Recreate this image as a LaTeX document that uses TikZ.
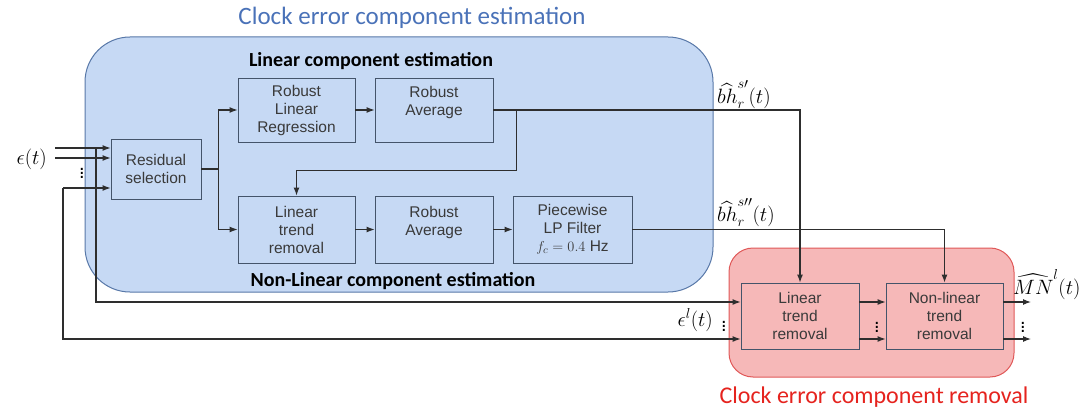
\documentclass[tikz,border=0pt]{standalone}
\usepackage{amsmath}
\usepackage{fontspec}
\setmainfont{Liberation Sans}
\newfontfamily\calibri{Carlito}
\usepackage{tikz}
\usetikzlibrary{arrows.meta,positioning}
\definecolor{estfill}{HTML}{C6D9F4}
\definecolor{estline}{HTML}{5878A8}
\definecolor{esttext}{HTML}{4A72B8}
\definecolor{remfill}{HTML}{F6B8B8}
\definecolor{remline}{HTML}{E05858}
\definecolor{remtext}{HTML}{E5231E}
\definecolor{boxline}{HTML}{44546A}
\definecolor{boxtext}{HTML}{3A3A3A}
\definecolor{wire}{HTML}{2E2E2E}
\newcommand{\bigmath}{\fontsize{22}{25}\selectfont}

\begin{document}
\begin{tikzpicture}[x=1pt,y=-1pt,
  font=\fontsize{15.5}{18}\selectfont,
  blk/.style={draw=boxline,line width=0.9pt,text=boxtext,align=center,inner sep=1pt,
    minimum width=117pt,minimum height=65pt},
  estblk/.style={blk,fill=estfill},
  remblk/.style={blk,fill=remfill},
  grouptitle/.style={font=\calibri\bfseries\fontsize{20}{23}\selectfont},
  bigtitle/.style={font=\calibri\fontsize{25}{28}\selectfont},
  mlabel/.style={font=\bigmath,inner sep=1pt},
  dots/.style={font=\fontsize{20}{22}\selectfont,inner sep=0pt},
  arr/.style={-{Latex[length=8pt,width=6pt]},line width=1.1pt,wire},
  wireline/.style={line width=1.1pt,wire}
]
\useasboundingbox (0,0) rectangle (1084,414);
\draw[draw=estline,fill=estfill,line width=1pt,rounded corners=45pt] (85,37) rectangle (713,292);
\draw[draw=remline,fill=remfill,line width=1pt,rounded corners=24pt] (729,248) rectangle (1014,377);
\node[bigtitle,text=esttext] (esttitle) at (412,18) {Clock error component estimation};
\node[bigtitle,text=remtext,font=\calibri\fontsize{24}{27}\selectfont] (remtitle) at (874,397) {Clock error component removal};
\node[grouptitle] (lintitle) at (371,61) {Linear component estimation};
\node[grouptitle] (nltitle) at (393,281) {Non-Linear component estimation};
\node[estblk,minimum width=90pt,minimum height=60pt] (res) at (156,169) {Residual\\selection};
\node[estblk,minimum height=64pt] (rlr) at (296.5,110) {Robust\\Linear\\Regression};
\node[estblk,minimum width=118pt,minimum height=64pt] (avg1) at (434,110) {Robust\\Average\\\mbox{}};
\node[estblk,minimum height=67pt] (ltr) at (296.5,229.5) {Linear\\trend\\removal};
\node[estblk,minimum width=118pt,minimum height=67pt] (avg2) at (434,229.5) {Robust\\Average\\\mbox{}};
\node[estblk,minimum width=119pt,minimum height=67pt] (filt) at (572.5,229.5) {Piecewise\\LP Filter\\$f_c = 0.4$ Hz};
\node[remblk,minimum width=118pt,minimum height=66pt] (lin2) at (800,316) {Linear\\trend\\removal};
\node[remblk,minimum height=66pt] (nlr) at (944.5,316) {Non-linear\\trend\\removal};
\coordinate (inA) at (55,148);
\coordinate (inB) at (55,158);
\coordinate (splitA) at (96,148);
\coordinate (splitC) at (63,188);
\coordinate (outA) at (1031,302);
\coordinate (outB) at (1031,339);
\node[mlabel,anchor=east] (eps) at (48,159) {$\epsilon(t)$};
\node[mlabel,anchor=east] (epsl) at (714,320) {$\epsilon^{l}(t)$};
\node[mlabel,anchor=south west] (bh1) at (716,110) {$\widehat{bh}_r^{s\prime}(t)$};
\node[mlabel,anchor=south west] (bh2) at (716,228) {$\widehat{bh}_r^{s\prime\prime}(t)$};
\node[mlabel,anchor=south west] (mn) at (1012,301) {$\widehat{MN}^{l}(t)$};
\node[dots] (dotsin) at (82,170) {$\vdots$};
\node[dots] (dotsl) at (724,323) {$\vdots$};
\node[dots] (dotsmid) at (877,324) {$\vdots$};
\node[dots] (dotsout) at (1023,324) {$\vdots$};
\draw[arr] (inA) -- (inA -| res.west);
\draw[arr] (inB) -- (inB -| res.west);
\draw[arr] (splitC) -- (splitC -| res.west);
\draw[arr] (splitA) |- ([yshift=14pt]lin2.west);
\draw[arr] (splitC) |- ([yshift=-23pt]lin2.west);
\draw[wireline] (res.east) -- ++(17,0) coordinate (fork);
\draw[arr] (fork) |- (rlr.west);
\draw[arr] (fork) |- (ltr.west);
\draw[arr] (rlr) -- (avg1);
\draw[arr] (avg1.east) -| (lin2.north);
\draw[arr] ([xshift=23pt]avg1.east) |- ([yshift=25pt]ltr.north) -- (ltr.north);
\draw[arr] (ltr) -- (avg2);
\draw[arr] (avg2) -- (filt);
\draw[arr] (filt.east) -| (nlr.north);
\draw[arr] ([yshift=14pt]lin2.east) -- ([yshift=14pt]nlr.west);
\draw[arr] ([yshift=-23pt]lin2.east) -- ([yshift=-23pt]nlr.west);
\draw[arr] (nlr.east |- outA) -- (outA);
\draw[arr] (nlr.east |- outB) -- (outB);
\end{tikzpicture}
\end{document}
